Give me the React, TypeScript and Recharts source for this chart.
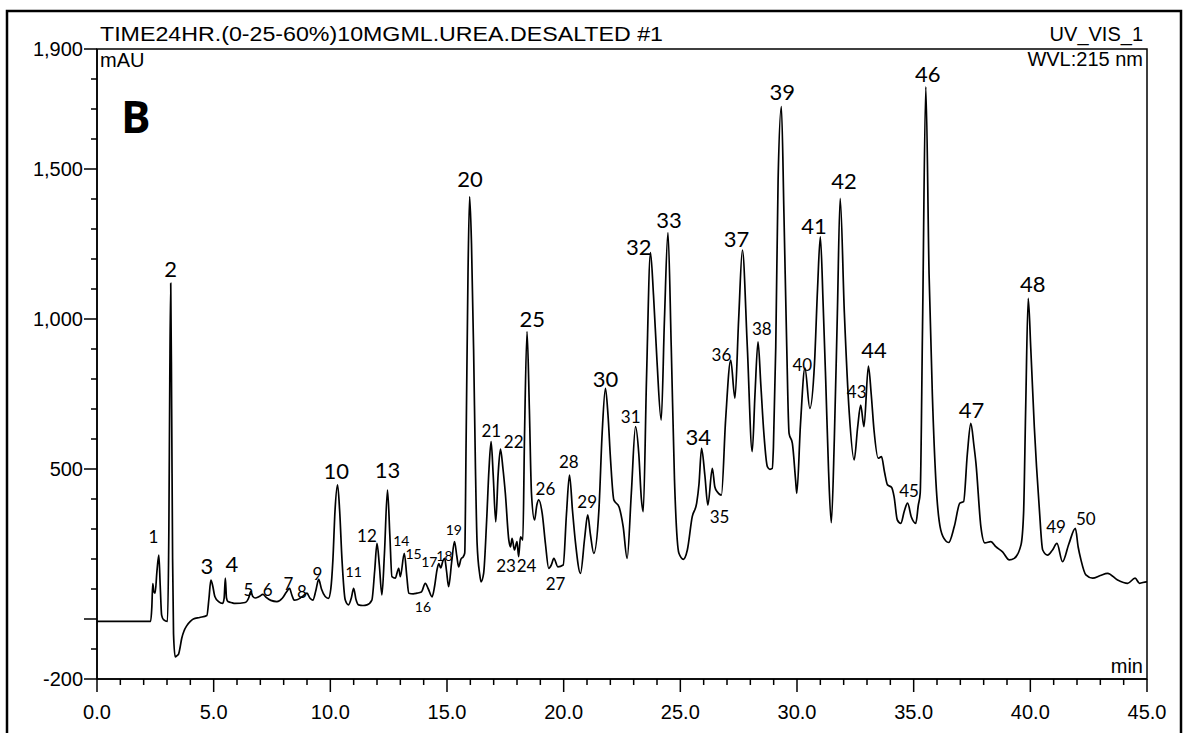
import {
  ComposedChart,
  Line,
  Scatter,
  XAxis,
  YAxis,
  ReferenceArea,
} from "recharts"

// retention time (min) / absorbance (mAU) pairs, 0–10 min
const traceA: [number, number][] = [
  [0, -8], [2.3, -8], [2.35, 40], [2.39, 118], [2.44, 90], [2.49, 86], [2.57, 160],
  [2.65, 213], [2.71, 110], [2.77, 13], [2.85, -2], [3.02, -8], [3.08, 300],
  [3.12, 800], [3.16, 1119], [3.2, 700], [3.24, 200], [3.28, -50], [3.35, -126],
  [3.43, -122], [3.49, -118], [3.56, -95], [3.63, -65], [3.74, -38], [3.85, -22],
  [4.0, -8], [4.13, 0], [4.4, 5], [4.71, 12], [4.8, 70], [4.88, 130], [4.96, 110],
  [5.05, 75], [5.21, 58], [5.39, 52], [5.45, 70], [5.5, 136], [5.55, 70], [5.61, 58],
  [5.75, 55], [5.92, 52], [6.35, 55], [6.5, 70], [6.59, 91], [6.68, 75], [6.78, 70],
  [6.95, 75], [7.11, 82], [7.25, 72], [7.45, 62], [7.71, 58], [7.95, 70], [8.12, 90],
  [8.25, 102], [8.35, 80], [8.45, 63], [8.6, 65], [8.71, 70], [8.85, 78], [9.0, 86],
  [9.12, 70], [9.25, 63], [9.38, 95], [9.5, 132], [9.62, 100], [9.78, 75], [9.92, 69],
]

// 10–20 min
const traceB: [number, number][] = [
  [10.02, 100], [10.11, 197], [10.2, 360], [10.31, 447], [10.4, 360], [10.5, 197],
  [10.64, 63], [10.78, 47], [10.9, 70], [11.0, 102], [11.1, 65], [11.21, 47],
  [11.4, 45], [11.57, 47], [11.78, 63], [11.9, 160], [12.0, 252], [12.1, 180],
  [12.21, 80], [12.32, 220], [12.45, 430], [12.55, 280], [12.64, 141], [12.78, 136],
  [12.93, 169], [13.0, 141], [13.17, 219], [13.28, 140], [13.36, 86], [13.55, 84],
  [13.71, 86], [13.9, 90], [14.07, 119], [14.2, 100], [14.36, 74], [14.47, 110],
  [14.57, 163], [14.65, 185], [14.73, 170], [14.83, 195], [14.9, 202], [14.98, 160],
  [15.07, 108], [15.2, 190], [15.32, 258], [15.42, 210], [15.5, 174], [15.6, 200],
  [15.7, 208], [15.76, 220], [15.82, 600], [15.9, 1150], [15.97, 1408], [16.05, 1250],
  [16.14, 900], [16.22, 500], [16.29, 252], [16.4, 150], [16.46, 124], [16.57, 152],
  [16.7, 330], [16.8, 500], [16.89, 591], [16.98, 480], [17.09, 324], [17.19, 480],
  [17.29, 566], [17.4, 500], [17.5, 419], [17.65, 263], [17.72, 240], [17.79, 269],
  [17.89, 230], [18.0, 258], [18.07, 208], [18.15, 274], [18.25, 263], [18.32, 600],
  [18.43, 958], [18.53, 700], [18.62, 419], [18.75, 330], [18.85, 380], [18.93, 397],
  [19.08, 352], [19.22, 250], [19.36, 169], [19.47, 180], [19.58, 202], [19.75, 174],
  [19.98, 180],
]

// 20–30 min
const traceC: [number, number][] = [
  [20.12, 350], [20.25, 480], [20.38, 360], [20.51, 252], [20.72, 152], [20.9, 270],
  [21.03, 347], [21.15, 280], [21.29, 219], [21.51, 363], [21.65, 620], [21.79, 769],
  [21.9, 680], [22.01, 530], [22.15, 397], [22.37, 374], [22.55, 308], [22.72, 202],
  [22.9, 420], [23.08, 641], [23.22, 550], [23.33, 400], [23.41, 358], [23.55, 800],
  [23.72, 1221], [23.85, 1080], [24.0, 860], [24.18, 663], [24.32, 1000], [24.47, 1288],
  [24.61, 908], [24.75, 463], [24.94, 219], [25.13, 199], [25.3, 230], [25.51, 341],
  [25.7, 386], [25.8, 450], [25.91, 569], [26.05, 480], [26.18, 380], [26.37, 502],
  [26.48, 440], [26.58, 424], [26.76, 413], [26.94, 663], [27.16, 863], [27.34, 736],
  [27.5, 1000], [27.66, 1230], [27.87, 908], [28.08, 558], [28.2, 750], [28.33, 924],
  [28.45, 780], [28.58, 619], [28.73, 508], [28.84, 499], [28.94, 502], [28.99, 574],
  [29.09, 908], [29.19, 1463], [29.33, 1708], [29.44, 1352], [29.56, 908], [29.66, 619],
  [29.8, 586], [29.94, 463], [29.99, 419],
]

// 30–45 min
const traceD: [number, number][] = [
  [30.15, 650], [30.34, 836], [30.55, 702], [30.75, 852], [30.88, 1100], [31.0, 1274],
  [31.12, 1050], [31.23, 797], [31.35, 500], [31.47, 321], [31.6, 600], [31.73, 1019],
  [31.85, 1402], [32.03, 1019], [32.24, 686], [32.45, 530], [32.6, 640], [32.73, 713],
  [32.87, 641], [33.06, 843], [33.18, 750], [33.3, 630], [33.48, 536], [33.62, 541],
  [33.75, 490], [33.88, 447], [34.05, 439], [34.16, 408], [34.3, 330], [34.45, 319],
  [34.6, 360], [34.74, 386], [34.9, 340], [35.09, 319], [35.2, 380], [35.28, 419],
  [35.38, 974], [35.52, 1774], [35.66, 1150], [35.8, 750], [35.95, 463], [36.16, 297],
  [36.38, 260], [36.5, 255], [36.74, 308], [36.98, 386], [37.14, 391], [37.3, 550],
  [37.45, 652], [37.58, 580], [37.67, 519], [37.88, 308], [38.05, 254], [38.31, 258],
  [38.52, 241], [38.81, 224], [39.1, 197], [39.31, 202], [39.6, 247], [39.71, 352],
  [39.8, 700], [39.91, 1069], [40.02, 900], [40.17, 641], [40.38, 374], [40.53, 230],
  [40.74, 213], [40.95, 230], [41.14, 252], [41.38, 191], [41.65, 250], [41.93, 302],
  [42.05, 240], [42.17, 197], [42.38, 147], [42.67, 136], [43.0, 145], [43.31, 152],
  [43.74, 130], [44.17, 119], [44.49, 136], [44.68, 119], [44.97, 124], [45, 124],
]

// peak number, retention time, height the number is written at (mAU)
const peakTags: [string, number, number][] = [
  ["1", 2.42, 274], ["2", 3.16, 1169], ["3", 4.71, 180], ["4", 5.78, 186],
  ["5", 6.49, 97], ["6", 7.31, 97], ["7", 8.2, 120], ["8", 8.78, 91], ["9", 9.45, 153],
  ["10", 10.25, 495], ["11", 11.0, 158], ["12", 11.57, 280], ["13", 12.45, 500],
  ["14", 13.04, 263], ["15", 13.57, 220], ["16", 13.97, 41], ["17", 14.24, 191],
  ["18", 14.89, 213], ["19", 15.29, 297], ["20", 15.99, 1469], ["21", 16.9, 630],
  ["22", 17.86, 593], ["23", 17.53, 180], ["24", 18.41, 180], ["25", 18.65, 1002],
  ["26", 19.22, 436], ["27", 19.65, 119], ["28", 20.22, 524], ["29", 21.01, 391],
  ["30", 21.79, 802], ["31", 22.87, 674], ["32", 23.22, 1241], ["33", 24.51, 1332],
  ["34", 25.77, 608], ["35", 26.68, 341], ["36", 26.76, 883], ["37", 27.41, 1269],
  ["38", 28.49, 969], ["39", 29.37, 1758], ["40", 30.23, 847], ["41", 30.73, 1313],
  ["42", 32.01, 1463], ["43", 32.56, 758], ["44", 33.3, 897], ["45", 34.8, 430],
  ["46", 35.6, 1819], ["47", 37.48, 697], ["48", 40.1, 1117], ["49", 41.1, 308],
  ["50", 42.38, 336],
]

const xTicks = Array.from({ length: 46 }, (_, i) => i)
const yTicks = Array.from({ length: 22 }, (_, i) => -200 + i * 100)
const yLabelled = [-200, 500, 1000, 1500, 1900]

const trace = [...traceA, ...traceB, ...traceC, ...traceD].map(([t, mAU]) => ({ t, mAU }))
const tags = peakTags.map(([tag, t, mAU]) => ({ tag, t, mAU }))

const axisFont = "'Liberation Sans', Arial, sans-serif"
const handFont = "Lato, 'DejaVu Sans', sans-serif"

const smallTags = ["11", "14", "15", "16", "17", "18", "19"]
const midTags = [
  "1", "5", "6", "7", "8", "9", "12", "21", "22", "23", "24", "26", "27", "28", "29",
  "31", "35", "36", "38", "40", "43", "45", "49", "50",
]

function YTick(props: any) {
  const { x, y, payload } = props
  const v = payload.value as number
  const labelled = yLabelled.includes(v)
  const len = labelled || v === 0 ? 13 : 6
  return (
    <g>
      <line x1={x - len} y1={y} x2={x} y2={y} stroke="#000" strokeWidth={1.5} />
      {labelled && (
        <text
          x={x - len - 1}
          y={y}
          textAnchor="end"
          dominantBaseline="central"
          fontFamily={axisFont}
          fontSize={20}
          fill="#000"
        >
          {v.toLocaleString("en-US")}
        </text>
      )}
    </g>
  )
}

function XTick(props: any) {
  const { x, y, payload } = props
  const v = payload.value as number
  const major = v % 5 === 0
  return (
    <g>
      <line x1={x} y1={y} x2={x} y2={y + (major ? 13 : 6)} stroke="#000" strokeWidth={1.5} />
      {major && (
        <text x={x} y={y + 40} textAnchor="middle" fontFamily={axisFont} fontSize={20} fill="#000">
          {v.toFixed(1)}
        </text>
      )}
    </g>
  )
}

function PeakTag(props: any) {
  const { cx, cy, payload } = props
  const size = smallTags.includes(payload.tag) ? 14 : midTags.includes(payload.tag) ? 17 : 22
  return (
    <text
      x={cx}
      y={cy}
      textAnchor="middle"
      dominantBaseline="central"
      fontFamily={handFont}
      fontSize={size}
      fill="#000"
    >
      {payload.tag}
    </text>
  )
}

export default function App() {
  return (
    <div style={{ position: "absolute", left: 0, top: 0, width: 1188, height: 733, background: "#fff" }}>
      <ComposedChart
        width={1188}
        height={733}
        data={trace}
        margin={{ top: 49, right: 41, left: 37, bottom: 24 }}
      >
        <XAxis
          type="number"
          dataKey="t"
          domain={[0, 45]}
          ticks={xTicks}
          interval={0}
          tickSize={0}
          tickMargin={0}
          tick={<XTick />}
          tickLine={false}
          axisLine={{ stroke: "#000", strokeWidth: 1.5 }}
          height={30}
        />
        <YAxis
          type="number"
          domain={[-200, 1900]}
          ticks={yTicks}
          interval={0}
          tickSize={0}
          tickMargin={0}
          tick={<YTick />}
          tickLine={false}
          axisLine={{ stroke: "#000", strokeWidth: 1.5 }}
          width={60}
        />
        <ReferenceArea
          x1={0}
          x2={45}
          y1={-200}
          y2={1900}
          fill="none"
          stroke="#000"
          strokeWidth={1.5}
        />
        <Line
          type="monotone"
          dataKey="mAU"
          stroke="#000"
          strokeWidth={1.7}
          dot={false}
          activeDot={false}
          isAnimationActive={false}
        />
        <Scatter
          data={tags}
          dataKey="mAU"
          shape={PeakTag}
          isAnimationActive={false}
        />
      </ComposedChart>
      <svg
        width={1188}
        height={733}
        style={{ position: "absolute", left: 0, top: 0, pointerEvents: "none" }}
      >
        <rect x={7} y={11} width={1174} height={760} fill="none" stroke="#000" strokeWidth={2.5} />
        <g fontFamily={axisFont} fontSize={20} fill="#000">
          <text x={100} y={41} textLength={563} lengthAdjust="spacingAndGlyphs">
            TIME24HR.(0-25-60%)10MGML.UREA.DESALTED #1
          </text>
          <text x={1143} y={41} textAnchor="end">UV_VIS_1</text>
          <text x={1143} y={66} textAnchor="end">WVL:215 nm</text>
          <text x={100} y={67}>mAU</text>
          <text x={1143} y={673} textAnchor="end">min</text>
        </g>
        <text
          x={121}
          y={133}
          fontFamily="'Open Sans', sans-serif"
          fontWeight={700}
          fontSize={44}
          fill="#000"
        >
          B
        </text>
      </svg>
    </div>
  )
}
